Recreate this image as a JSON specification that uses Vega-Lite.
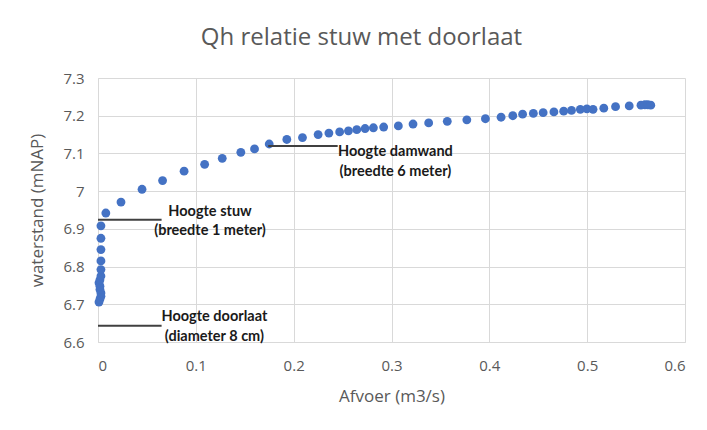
{
  "$schema": "https://vega.github.io/schema/vega-lite/v6.json",
  "width": 587,
  "height": 264,
  "autosize": {"type": "none"},
  "padding": {"left": 98, "top": 78, "right": 22, "bottom": 88},
  "background": "white",
  "title": {
    "text": "Qh relatie stuw met doorlaat",
    "font": "Open Sans",
    "fontSize": 24,
    "fontWeight": "normal",
    "color": "#595959",
    "offset": 21,
    "dx": -30
  },
  "config": {
    "view": {"stroke": null},
    "axis": {
      "labelFont": "Open Sans",
      "labelFontSize": 15,
      "labelColor": "#595959",
      "labelOverlap": false,
      "titleFont": "Open Sans",
      "titleFontSize": 17,
      "titleFontWeight": "normal",
      "titleColor": "#595959",
      "gridColor": "#d9d9d9",
      "gridWidth": 1,
      "domainColor": "#d9d9d9",
      "ticks": false
    }
  },
  "layer": [
    {
      "data": {
        "values": [
          {"q": 0.001, "h": 6.706}, {"q": 0.002, "h": 6.714}, {"q": 0.003, "h": 6.721}, {"q": 0.003, "h": 6.730},
          {"q": 0.002, "h": 6.739}, {"q": 0.002, "h": 6.748}, {"q": 0.001, "h": 6.757}, {"q": 0.002, "h": 6.765},
          {"q": 0.003, "h": 6.775}, {"q": 0.003, "h": 6.792}, {"q": 0.003, "h": 6.815}, {"q": 0.003, "h": 6.845},
          {"q": 0.003, "h": 6.875}, {"q": 0.003, "h": 6.908}, {"q": 0.008, "h": 6.942}, {"q": 0.0235, "h": 6.971},
          {"q": 0.045, "h": 7.005}, {"q": 0.066, "h": 7.028}, {"q": 0.088, "h": 7.053}, {"q": 0.109, "h": 7.071},
          {"q": 0.127, "h": 7.087}, {"q": 0.146, "h": 7.103}, {"q": 0.160, "h": 7.112}, {"q": 0.175, "h": 7.125},
          {"q": 0.193, "h": 7.137}, {"q": 0.209, "h": 7.142}, {"q": 0.225, "h": 7.150}, {"q": 0.236, "h": 7.154},
          {"q": 0.247, "h": 7.157}, {"q": 0.256, "h": 7.160}, {"q": 0.2645, "h": 7.163}, {"q": 0.273, "h": 7.166},
          {"q": 0.2815, "h": 7.168}, {"q": 0.292, "h": 7.170}, {"q": 0.307, "h": 7.173}, {"q": 0.322, "h": 7.178},
          {"q": 0.338, "h": 7.181}, {"q": 0.357, "h": 7.185}, {"q": 0.377, "h": 7.189}, {"q": 0.396, "h": 7.192},
          {"q": 0.412, "h": 7.196}, {"q": 0.424, "h": 7.200}, {"q": 0.434, "h": 7.204}, {"q": 0.445, "h": 7.206},
          {"q": 0.455, "h": 7.208}, {"q": 0.466, "h": 7.210}, {"q": 0.476, "h": 7.212}, {"q": 0.484, "h": 7.214},
          {"q": 0.493, "h": 7.217}, {"q": 0.4997, "h": 7.218}, {"q": 0.506, "h": 7.217}, {"q": 0.517, "h": 7.220},
          {"q": 0.529, "h": 7.224}, {"q": 0.543, "h": 7.226}, {"q": 0.555, "h": 7.228}, {"q": 0.559, "h": 7.229},
          {"q": 0.562, "h": 7.229}, {"q": 0.565, "h": 7.228}
        ]
      },
      "mark": {"type": "point", "filled": true, "opacity": 1, "size": 78, "color": "#4472C4"},
      "encoding": {
        "x": {
          "field": "q", "type": "quantitative", "title": "Afvoer (m3/s)",
          "scale": {"domain": [0, 0.6], "nice": false, "zero": false},
          "axis": {"values": [0, 0.1, 0.2, 0.3, 0.4, 0.5, 0.6], "labelExpr": "toString(datum.value)", "labelPadding": 16, "titlePadding": 15}
        },
        "y": {
          "field": "h", "type": "quantitative", "title": "waterstand (mNAP)",
          "scale": {"domain": [6.6, 7.3], "nice": false, "zero": false},
          "axis": {"values": [6.6, 6.7, 6.8, 6.9, 7, 7.1, 7.2, 7.3], "labelExpr": "toString(datum.value)", "labelPadding": 14, "titlePadding": 16}
        }
      }
    },
    {
      "data": {
        "values": [
          {"q": 0, "q2": 0.065, "h": 6.924},
          {"q": 0, "q2": 0.065, "h": 6.643},
          {"q": 0.174, "q2": 0.245, "h": 7.120}
        ]
      },
      "mark": {"type": "rule", "color": "#404040", "strokeWidth": 2},
      "encoding": {
        "x": {
          "field": "q", "type": "quantitative", "title": "Afvoer (m3/s)",
          "scale": {"domain": [0, 0.6], "nice": false, "zero": false},
          "axis": {"values": [0, 0.1, 0.2, 0.3, 0.4, 0.5, 0.6], "labelExpr": "toString(datum.value)", "labelPadding": 16, "titlePadding": 15}
        },
        "x2": {"field": "q2"},
        "y": {
          "field": "h", "type": "quantitative", "title": "waterstand (mNAP)",
          "scale": {"domain": [6.6, 7.3], "nice": false, "zero": false},
          "axis": {"values": [6.6, 6.7, 6.8, 6.9, 7, 7.1, 7.2, 7.3], "labelExpr": "toString(datum.value)", "labelPadding": 14, "titlePadding": 16}
        }
      }
    },
    {
      "data": {
        "values": [
          {"q": 0.1145, "h": 6.945, "label": "Hoogte stuw"},
          {"q": 0.1145, "h": 6.895, "label": "(breedte 1 meter)"},
          {"q": 0.119, "h": 6.667, "label": "Hoogte doorlaat"},
          {"q": 0.119, "h": 6.614, "label": "(diameter 8 cm)"},
          {"q": 0.304, "h": 7.105, "label": "Hoogte damwand"},
          {"q": 0.304, "h": 7.051, "label": "(breedte 6 meter)"}
        ]
      },
      "mark": {"type": "text", "font": "Lato", "fontSize": 14.5, "fontWeight": "bold", "color": "#1a1a1a", "align": "center", "baseline": "middle"},
      "encoding": {
        "x": {
          "field": "q", "type": "quantitative", "title": "Afvoer (m3/s)",
          "scale": {"domain": [0, 0.6], "nice": false, "zero": false},
          "axis": {"values": [0, 0.1, 0.2, 0.3, 0.4, 0.5, 0.6], "labelExpr": "toString(datum.value)", "labelPadding": 16, "titlePadding": 15}
        },
        "y": {
          "field": "h", "type": "quantitative", "title": "waterstand (mNAP)",
          "scale": {"domain": [6.6, 7.3], "nice": false, "zero": false},
          "axis": {"values": [6.6, 6.7, 6.8, 6.9, 7, 7.1, 7.2, 7.3], "labelExpr": "toString(datum.value)", "labelPadding": 14, "titlePadding": 16}
        },
        "text": {"field": "label"}
      }
    }
  ]
}
